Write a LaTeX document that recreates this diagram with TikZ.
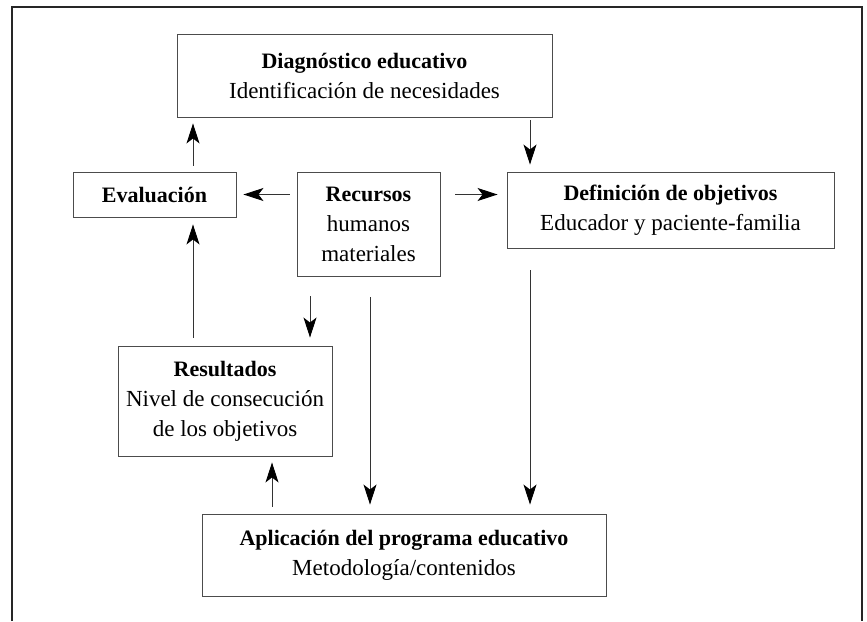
\documentclass[tikz,border=0pt]{standalone}
\usepackage{fontspec}
\setmainfont{Liberation Serif}
\usetikzlibrary{arrows.meta}
\newcommand\hdline[1]{{\fontsize{22}{30}\selectfont\bfseries #1}}
\begin{document}
\begin{tikzpicture}[x=1pt,y=-1pt,
  box/.style={draw=black!70,line width=0.9pt,align=center,inner sep=0pt,
    font=\fontsize{23}{30}\selectfont},
  arr/.style={draw=black!80,line width=0.9pt,-{Stealth[length=20pt,width=13pt,inset=5pt,black]}},
  frame/.style={draw=black!85,line width=1.4pt}]
\useasboundingbox (0,0) rectangle (867,621);
\draw[frame] (12,621) -- (12,7) -- (862,7) -- (862,621);
\node[box,minimum width=375pt,minimum height=83pt] (diag) at (364.5,75.5)
  {\hdline{Diagnóstico educativo}\\Identificación de necesidades};
\node[box,minimum width=163pt,minimum height=45pt] (eval) at (154.5,194.5)
  {\hdline{Evaluación}};
\node[box,minimum width=143pt,minimum height=104pt] (rec) at (368.5,224)
  {\hdline{Recursos}\\humanos\\materiales};
\node[box,minimum width=327pt,minimum height=76pt] (def) at (670.5,210)
  {\hdline{Definición de objetivos}\\Educador y paciente-familia};
\node[box,minimum width=214pt,minimum height=110pt] (res) at (225,401)
  {\hdline{Resultados}\\Nivel de consecución\\de los objetivos};
\node[box,minimum width=404pt,minimum height=82pt] (apl) at (404,555)
  {\hdline{Aplicación del programa educativo}\\Metodología/contenidos};
% anchor coordinates
\coordinate (e1) at ([xshift=38.5pt]eval.north);
\coordinate (e2) at ([xshift=38.5pt]eval.south);
\coordinate (d1) at ([xshift=-140.5pt]def.north);
\coordinate (d2) at ([xshift=-140.5pt]def.south);
\coordinate (r1) at ([xshift=-58.5pt]rec.south);
\coordinate (r2) at ([xshift=1.5pt]rec.south);
\coordinate (p1) at ([xshift=-132pt]apl.north);
\draw[arr,shorten <=6pt,shorten >=6pt] (e1) -- (e1 |- diag.south);
\draw[arr,shorten <=3pt,shorten >=7pt] (d1 |- diag.south) -- (d1);
\draw[arr,shorten <=7pt,shorten >=7pt] (rec.west |- eval.east) -- (eval.east);
\draw[arr,shorten <=15pt,shorten >=9pt] (rec.east |- eval.east) -- (def.west |- eval.east);
\draw[arr,shorten <=8pt,shorten >=7pt] (e2 |- res.north) -- (e2);
\draw[arr,shorten <=20pt,shorten >=8pt] (r1) -- (r1 |- res.north);
\draw[arr,shorten <=21pt,shorten >=9pt] (r2) -- (r2 |- apl.north);
\draw[arr,shorten <=22pt,shorten >=9pt] (d2) -- (d2 |- apl.north);
\draw[arr,shorten <=7pt,shorten >=6pt] (p1) -- (p1 |- res.south);
\end{tikzpicture}
\end{document}
